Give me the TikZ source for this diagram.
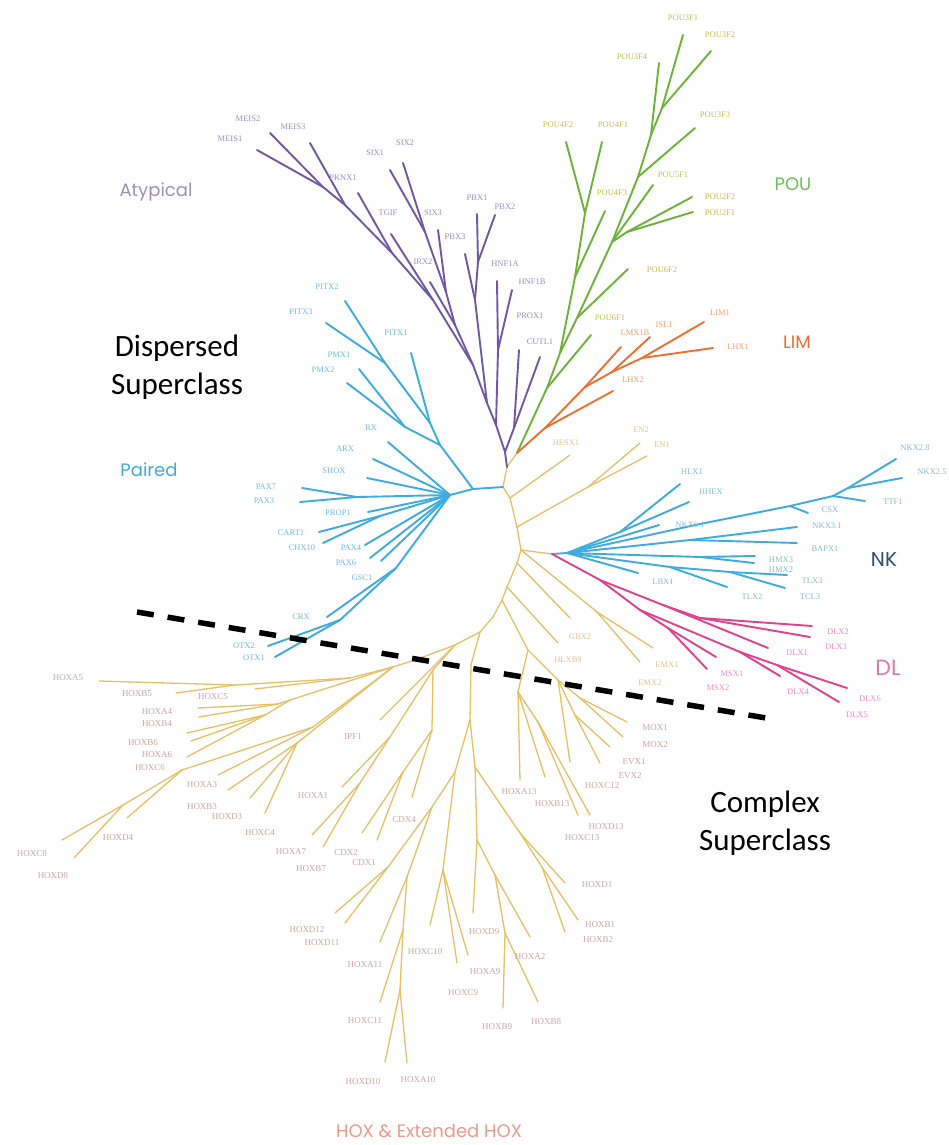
\documentclass[tikz,border=0pt]{standalone}
\usepackage{fontspec}
\setmainfont{Liberation Serif}
\newfontfamily\grpfont{Poppins}
\newfontfamily\calfont{Carlito}
\definecolor{cpur}{RGB}{112,88,165}
\definecolor{cblu}{RGB}{62,172,224}
\definecolor{cgrn}{RGB}{108,180,56}
\definecolor{corg}{RGB}{236,112,48}
\definecolor{cyel}{RGB}{230,192,100}
\definecolor{cpnk}{RGB}{226,66,142}
\definecolor{lpur}{RGB}{155,142,195}
\definecolor{lblu}{RGB}{110,188,228}
\definecolor{lgrn}{RGB}{186,196,80}
\definecolor{lorg}{RGB}{242,160,110}
\definecolor{lnk}{RGB}{130,188,210}
\definecolor{lpnk}{RGB}{238,140,188}
\definecolor{lhox}{RGB}{200,168,160}
\definecolor{lyel}{RGB}{220,198,140}
\definecolor{gaty}{RGB}{155,146,182}
\definecolor{gpou}{RGB}{110,190,90}
\definecolor{glim}{RGB}{232,110,55}
\definecolor{gpai}{RGB}{70,170,220}
\definecolor{gnk}{RGB}{45,80,115}
\definecolor{gdl}{RGB}{225,120,165}
\definecolor{ghox}{RGB}{234,155,140}
\tikzset{
  br/.style={line width=1.9pt, line cap=round, line join=round},
  pur/.style={br, draw=cpur},
  blu/.style={br, draw=cblu},
  grn/.style={br, draw=cgrn},
  org/.style={br, draw=corg},
  pnk/.style={br, draw=cpnk},
  yel/.style={line width=1.3pt, line cap=round, draw=cyel},
  lab/.style={inner sep=0pt, font=\fontsize{8.5}{9}\selectfont},
  hlab/.style={inner sep=0pt, font=\fontsize{9}{10}\selectfont, text=lhox},
  grp/.style={inner sep=0pt, anchor=base, font=\grpfont\fontsize{18}{20}\selectfont},
  sup/.style={inner sep=0pt, anchor=base, font=\calfont\fontsize{31}{36}\selectfont, text=black},
}
\begin{document}
\begin{tikzpicture}[x=1pt,y=-1pt]
\fill[white] (0,0) rectangle (949,1145);
\useasboundingbox (0,0) rectangle (949,1145);

% ---------------- coordinates ----------------
\foreach \n/\x/\y in {
 B1/517/453, B0/507/467, Bp/503/487, Bh/510/498, Be/517/527, Bn/521/550, S/552/554,
 Bq/517/563, Br/507/587, Bs/502/600, Bt/493/617, Bu/480/632,
 A1/505/452, CUT/514/428, tCUTL1/540/357, tPROX1/519/350, A2/496/425, HN/498/350,
 tHNF1A/497/281, tHNF1B/512/290, A3/487/403, PB/475/300, tPBX3/465/254, PBb/478/262,
 tPBX1/477/214, tPBX2/495/215, A4/473/365, A5/455/325, SX/446/292, S1/425/232,
 tSIX1/390/170, tSIX2/403/163, tSIX3/438/230, tIRX2/430/282, M0/433/300, tTGIF/391/234,
 M1/392/253, tPKNX1/358/193, M2/345/205, tMEIS3/310/143, M3/323/187, tMEIS1/257/150, tMEIS2/270/133,
 G1/547/388, tPOU6F1/591/335, G2/560/353, G4a/575/277, tPOU4F3/605/211, G4b/585/213,
 tPOU4F2/566/142, tPOU4F1/602/142, G3/577/318, tPOU6F2/628/269, G5/612/242, G6/627/232,
 tPOU2F2/692/197, tPOU2F1/693/212, tPOU5F1/653/185, G7/638/177, tPOU3F3/695/128,
 G8/651/135, tPOU3F4/659/63, G9/662/108, tPOU3F1/683/35, tPOU3F2/711/51,
 O1/545/428, tLHX2/613/391, O2/585/387, tLMX1B/621/347, O4/612/372, tISL1/650/337,
 O3/642/358, tLIM1/704/322, tLHX1/713/348,
 P1/473/489, H/450/495, Q1/440/445, Q2/430/423, tPITX1/411/353, Q3/385/363, tPITX2/345/301,
 tPITX3/326/323, Q4/405/427, tPMX1/359/369, tPMX2/347/383, tRX/388/442, tARX/373/459,
 tSHOX/367/478, PX/357/497, tPAX7/302/488, tPAX3/300/502, tPROP1/368/512, CC/380/516,
 tCART1/319/532, tCHX10/323/543, tPAX4/365/545, tPAX6/370/558, tGSC1/381/561, G1b/396/568,
 tCRX/327/617, O1b/340/620, tOTX2/268/646, tOTX1/275/657,
 N0/567/553, Na/620/532, tHLX1/680/484, tHHEX/689/502, tNKX61/659/525, Nb/700/524,
 Nc/790/506, Nd/833/496, Ne/848/488, tNKX28/896/459, tNKX25/902/478, tTTF1/865/501,
 tCSX/808/513, Ng/690/540, tNKX31/797/527, tBAPX1/797/543, Nh/700/557, tHMX3/755/556,
 tHMX2/754/563, tLBX1/638/573, Ni/670/567, tTLX2/727/587, Nj/730/572, tTLX3/787/575, tTCL3/785/588,
 D1/600/580, D2/663/605, D3/700/618, tDLX2/812/626, tDLX3/810/637, tDLX1/768/648, D4/640/610,
 D5/668/628, tMSX1/716/657, tMSX2/707/669, D6/740/652, tDLX4/780/676, D7/777/665,
 tDLX6/847/688, tDLX5/839/702,
 tHESX1/570/455, E1/588/487, tEN2/640/443, tEN1/647/456, Em/597/612, tEMX1/653/648,
 tEMX2/640/662, tGBX2/570/618, tHLXB9/558/643,
 R1/528/650, R2/558/680, R3/580/698, tMOX1/627/722, tMOX2/623/737, R4/575/715,
 tEVX1/610/747, tEVX2/600/763, tHOXC12/570/762, R5/518/692, tHOXA13/520/780,
 tHOXB13/545/777, R6/538/722, tHOXC13/578/815, tHOXD13/590/815,
 C0/471/665, C1/470/720, C2/455/772, C3/432/807, C4/388/867, tHOXD12/335/913,
 tHOXD11/345/923, C6/407/877, tHOXA11/380/942, C7/403/930, tHOXC11/380/1002, C8/400/990,
 tHOXD10/385/1062, tHOXA10/407/1063, C9/443/870, tHOXC10/430/925, tHOXC9/457/963,
 tHOXA9/468/955, C5/475/767, C11/477/840, tHOXD9/473/913, C12/495/875, tHOXA2/530/937,
 C13/505/933, tHOXB9/503/1008, tHOXB8/538/1002, C14/520/833, tHOXD1/565/883, C15/542/867,
 tHOXB2/565/932, tHOXB1/578/920,
 L0/455/645, tIPF1/380/720, K0/433/670, K1/390/737, tHOXA1/342/787, K2/360/783,
 tHOXA7/312/835, tHOXB7/323/847, K3/432/730, K4/403/772, tCDX2/362/833, tCDX1/377/840,
 tCDX4/412/797, L1/415/660, L2/393/667,
 L3/350/678, L3a/235/685, tHOXA5/99/681, tHOXB5/176/693, tHOXC5/255/689, L4/290/700,
 L4a/278/704, tHOXA4/198/708, tHOXB4/199/717, L4b/265/715, tHOXB6/187/733, tHOXA6/191/741,
 tHOXC6/187/757, L5/313/727, tHOXA3/218/775, L6/182/770, tHOXD4/127/818, L7/123/805,
 tHOXC8/62/840, tHOXD8/74/858, L8/297/743, tHOXB3/228/790, tHOXD3/250/798, tHOXC4/265/813,
 dashS/137/612, dashE/778/720}
 {\coordinate (\n) at (\x,\y);}

% ---------------- branches ----------------
\foreach \a/\b in {B1/B0, B0/Bp, Bp/Bh, Bh/Be, Be/Bn, Bn/Bq, Bq/Br, Br/Bs, Bs/Bt, Bt/Bu,
 Bh/tHESX1, Be/E1, E1/tEN2, E1/tEN1, Bn/S, Bn/Em, Em/tEMX1, Em/tEMX2, Bq/tGBX2, Br/tHLXB9,
 Bs/R1, R1/R2, R2/R3, R3/tMOX1, R3/tMOX2, R2/R4, R4/tEVX1, R4/tEVX2, R2/tHOXC12, R1/R5,
 R5/tHOXA13, R5/tHOXB13, R5/R6, R6/tHOXC13, R6/tHOXD13,
 Bu/C0, C0/C1, C1/C2, C2/C3, C3/C4, C4/tHOXD12, C4/tHOXD11, C3/C6, C6/tHOXA11, C6/C7,
 C7/tHOXC11, C7/C8, C8/tHOXD10, C8/tHOXA10, C2/C9, C9/tHOXC10, C9/tHOXC9, C9/tHOXA9,
 C1/C5, C5/C11, C11/tHOXD9, C11/C12, C12/tHOXA2, C12/C13, C13/tHOXB9, C13/tHOXB8,
 C5/C14, C14/tHOXD1, C14/C15, C15/tHOXB2, C15/tHOXB1,
 Bu/L0, L0/tIPF1, L0/K0, K0/K1, K1/tHOXA1, K1/K2, K2/tHOXA7, K2/tHOXB7, K0/K3, K3/K4,
 K4/tCDX2, K4/tCDX1, K3/tCDX4, L0/L1, L1/L2,
 L2/L3, L3/L3a, L3a/tHOXA5, L3a/tHOXB5, L3/tHOXC5, L2/L4, L4/L4a, L4a/tHOXA4, L4a/tHOXB4,
 L4/L4b, L4b/tHOXB6, L4b/tHOXA6, L4b/tHOXC6, L2/L5, L5/tHOXA3, L5/L6, L6/tHOXD4, L6/L7,
 L7/tHOXC8, L7/tHOXD8, L2/L8, L8/tHOXB3, L8/tHOXD3, L8/tHOXC4}
 {\draw[yel] (\a) -- (\b);}

\foreach \a/\b in {B0/A1, A1/CUT, CUT/tCUTL1, CUT/tPROX1, A1/A2, A2/HN, HN/tHNF1A, HN/tHNF1B,
 A2/A3, A3/PB, PB/tPBX3, PB/PBb, PBb/tPBX1, PBb/tPBX2, A3/A4, A4/A5, A5/SX, SX/S1,
 S1/tSIX1, S1/tSIX2, SX/tSIX3, A5/tIRX2, A4/M0, M0/tTGIF, M0/M1, M1/tPKNX1, M1/M2,
 M2/tMEIS3, M2/M3, M3/tMEIS1, M3/tMEIS2}
 {\draw[pur] (\a) -- (\b);}

\foreach \a/\b in {B1/G1, G1/tPOU6F1, G1/G2, G2/G4a, G4a/tPOU4F3, G4a/G4b, G4b/tPOU4F2,
 G4b/tPOU4F1, G2/G3, G3/tPOU6F2, G3/G5, G5/G6, G6/tPOU2F2, G6/tPOU2F1, G5/tPOU5F1,
 G5/G7, G7/tPOU3F3, G7/G8, G8/tPOU3F4, G8/G9, G9/tPOU3F1, G9/tPOU3F2}
 {\draw[grn] (\a) -- (\b);}

\foreach \a/\b in {B1/O1, O1/tLHX2, O1/O2, O2/tLMX1B, O2/O4, O4/tISL1, O4/O3, O3/tLIM1, O3/tLHX1}
 {\draw[org] (\a) -- (\b);}

\foreach \a/\b in {Bp/P1, P1/H, P1/Q1, Q1/Q2, Q2/tPITX1, Q2/Q3, Q3/tPITX2, Q3/tPITX3, Q1/Q4,
 Q4/tPMX1, Q4/tPMX2, H/tRX, H/tARX, H/tSHOX, H/PX, PX/tPAX7, PX/tPAX3, H/tPROP1, H/CC,
 CC/tCART1, CC/tCHX10, H/tPAX4, H/tPAX6, H/tGSC1, H/G1b, G1b/tCRX, G1b/O1b, O1b/tOTX2, O1b/tOTX1,
 S/N0, N0/Na, Na/tHLX1, Na/tHHEX, N0/tNKX61, N0/Nb, Nb/Nc, Nc/Nd, Nd/Ne, Ne/tNKX28, Ne/tNKX25,
 Nd/tTTF1, Nc/tCSX, N0/Ng, Ng/tNKX31, Ng/tBAPX1, N0/Nh, Nh/tHMX3, Nh/tHMX2, N0/tLBX1,
 N0/Ni, Ni/tTLX2, Ni/Nj, Nj/tTLX3, Nj/tTCL3}
 {\draw[blu] (\a) -- (\b);}

\foreach \a/\b in {S/D1, D1/D2, D2/D3, D3/tDLX2, D3/tDLX3, D2/tDLX1, D1/D4, D4/D5, D5/tMSX1,
 D5/tMSX2, D4/D6, D6/tDLX4, D6/D7, D7/tDLX6, D7/tDLX5}
 {\draw[pnk] (\a) -- (\b);}

% ---------------- leaf labels ----------------
\foreach \n/\x/\y/\t in {MEIS1/230/139/MEIS1, MEIS2/248/119/MEIS2, MEIS3/293/127/MEIS3,
 PKNX1/343/178/PKNX1, TGIF/388/213/TGIF, IRX2/423/262/IRX2, SIX1/375/153/SIX1,
 SIX2/405/143/SIX2, SIX3/433/213/SIX3, PBX3/455/237/PBX3, PBX1/477/198/PBX1,
 PBX2/505/207/PBX2, HNF1A/505/264/HNF1A, HNF1B/532/282/HNF1B, PROX1/530/316/PROX1,
 CUTL1/540/342/CUTL1}
 {\node[lab, text=lpur] (l\n) at (\x,\y) {\t};}

\foreach \n/\x/\y/\t in {POU3F1/683/18/POU3F1, POU3F2/720/35/POU3F2, POU3F4/632/57/POU3F4,
 POU3F3/715/115/POU3F3, POU4F2/558/125/POU4F2, POU4F1/613/125/POU4F1, POU4F3/612/193/POU4F3,
 POU5F1/673/175/POU5F1, POU2F2/720/197/POU2F2, POU2F1/720/213/POU2F1,
 POU6F2/662/270/POU6F2, POU6F1/610/318/POU6F1}
 {\node[lab, text=lgrn] (l\n) at (\x,\y) {\t};}

\foreach \n/\x/\y/\t in {LIM1/720/313/LIM1, LHX1/738/347/LHX1, ISL1/664/325/ISL1,
 LMX1B/635/333/LMX1B, LHX2/633/380/LHX2}
 {\node[lab, text=lorg] (l\n) at (\x,\y) {\t};}

\foreach \n/\x/\y/\t in {PITX2/327/287/PITX2, PITX3/301/312/PITX3, PITX1/396/333/PITX1,
 PMX1/339/355/PMX1, PMX2/323/370/PMX2, RX/371/428/RX, ARX/345/449/ARX, SHOX/334/471/SHOX,
 PAX7/266/487/PAX7, PAX3/264/501/PAX3, PROP1/338/513/PROP1, CART1/291/533/CART1,
 CHX10/302/548/CHX10, PAX4/351/548/PAX4, PAX6/346/563/PAX6, GSC1/362/578/GSC1,
 CRX/301/617/CRX, OTX2/244/646/OTX2, OTX1/254/658/OTX1}
 {\node[lab, text=lblu] (l\n) at (\x,\y) {\t};}

\foreach \n/\x/\y/\t in {HLX1/692/472/HLX1, HHEX/711/492/HHEX, NKX61/690/525/NKX6.1,
 NKX28/915/448/NKX2.8, NKX25/932/472/NKX2.5, TTF1/893/502/TTF1, CSX/830/510/CSX,
 NKX31/827/526/NKX3.1, BAPX1/825/549/BAPX1, HMX3/781/560/HMX3, HMX2/781/570/HMX2,
 LBX1/663/582/LBX1, TLX2/752/597/TLX2, TLX3/812/581/TLX3, TCL3/810/597/TCL3}
 {\node[lab, text=lnk] (l\n) at (\x,\y) {\t};}

\foreach \n/\x/\y/\t in {DLX2/838/632/DLX2, DLX3/836/647/DLX3, DLX1/797/653/DLX1,
 MSX1/732/674/MSX1, MSX2/718/688/MSX2, DLX4/798/692/DLX4, DLX6/870/699/DLX6, DLX5/857/715/DLX5}
 {\node[lab, text=lpnk] (l\n) at (\x,\y) {\t};}

\foreach \n/\x/\y/\t in {HESX1/566/443/HESX1, EN2/641/430/EN2, EN1/662/445/EN1,
 GBX2/580/637/GBX2, HLXB9/568/660/HLXB9, EMX1/667/665/EMX1, EMX2/650/683/EMX2}
 {\node[lab, text=lyel] (l\n) at (\x,\y) {\t};}

\foreach \n/\x/\y/\t in {MOX1/655/728/MOX1, MOX2/655/745/MOX2, EVX1/634/762/EVX1,
 EVX2/630/776/EVX2, HOXC12/602/786/HOXC12, HOXA13/519/792/HOXA13, HOXB13/552/804/HOXB13,
 HOXD13/606/827/HOXD13, HOXC13/582/838/HOXC13,
 HOXD12/307/930/HOXD12, HOXD11/322/943/HOXD11, HOXA11/365/965/HOXA11, HOXC11/365/1021/HOXC11,
 HOXD10/363/1082/HOXD10, HOXA10/418/1080/HOXA10, HOXC10/425/952/HOXC10, HOXD9/484/932/HOXD9,
 HOXA9/485/972/HOXA9, HOXC9/463/993/HOXC9, HOXB9/497/1027/HOXB9, HOXB8/546/1022/HOXB8,
 HOXA2/530/957/HOXA2, HOXB2/598/940/HOXB2, HOXB1/600/925/HOXB1, HOXD1/597/885/HOXD1,
 IPF1/353/737/IPF1, HOXA1/313/796/HOXA1, HOXA7/291/852/HOXA7, HOXB7/311/869/HOXB7,
 CDX2/346/853/CDX2, CDX1/364/863/CDX1, CDX4/404/820/CDX4,
 HOXA5/68/678/HOXA5, HOXB5/137/694/HOXB5, HOXC5/213/697/HOXC5, HOXA4/157/712/HOXA4,
 HOXB4/157/724/HOXB4, HOXB6/143/743/HOXB6, HOXA6/157/755/HOXA6, HOXC6/150/768/HOXC6,
 HOXA3/202/785/HOXA3, HOXB3/202/807/HOXB3, HOXD3/227/817/HOXD3, HOXC4/260/833/HOXC4,
 HOXD4/118/838/HOXD4, HOXC8/32/854/HOXC8, HOXD8/53/876/HOXD8}
 {\node[hlab] (l\n) at (\x,\y) {\t};}

% ---------------- group labels ----------------
\node[grp, text=gaty] (gAty) at (156,196) {Atypical};
\node[grp, text=gpou] (gPOU) at (793,190) {POU};
\node[grp, text=glim] (gLIM) at (797,348) {LIM};
\node[grp, text=gpai] (gPai) at (149,476) {Paired};
\node[grp, text=gnk, font=\grpfont\fontsize{20}{22}\selectfont] (gNK) at (884,566) {NK};
\node[grp, text=gdl, font=\grpfont\fontsize{22}{24}\selectfont] (gDL) at (888,675) {DL};
\node[grp, text=ghox, font=\grpfont\fontsize{18}{20}\selectfont] (gHOX) at (429,1137) {HOX \& Extended HOX};

\node[sup] (dispA) at (177,356) {Dispersed};
\node[sup] (dispB) at (177,394) {Superclass};
\node[sup] (compA) at (765,812) {Complex};
\node[sup] (compB) at (765,850) {Superclass};

% ---------------- divider ----------------
\draw[line width=5.5pt, dash pattern=on 17pt off 14pt, black] (dashS) -- (dashE);
\end{tikzpicture}
\end{document}
